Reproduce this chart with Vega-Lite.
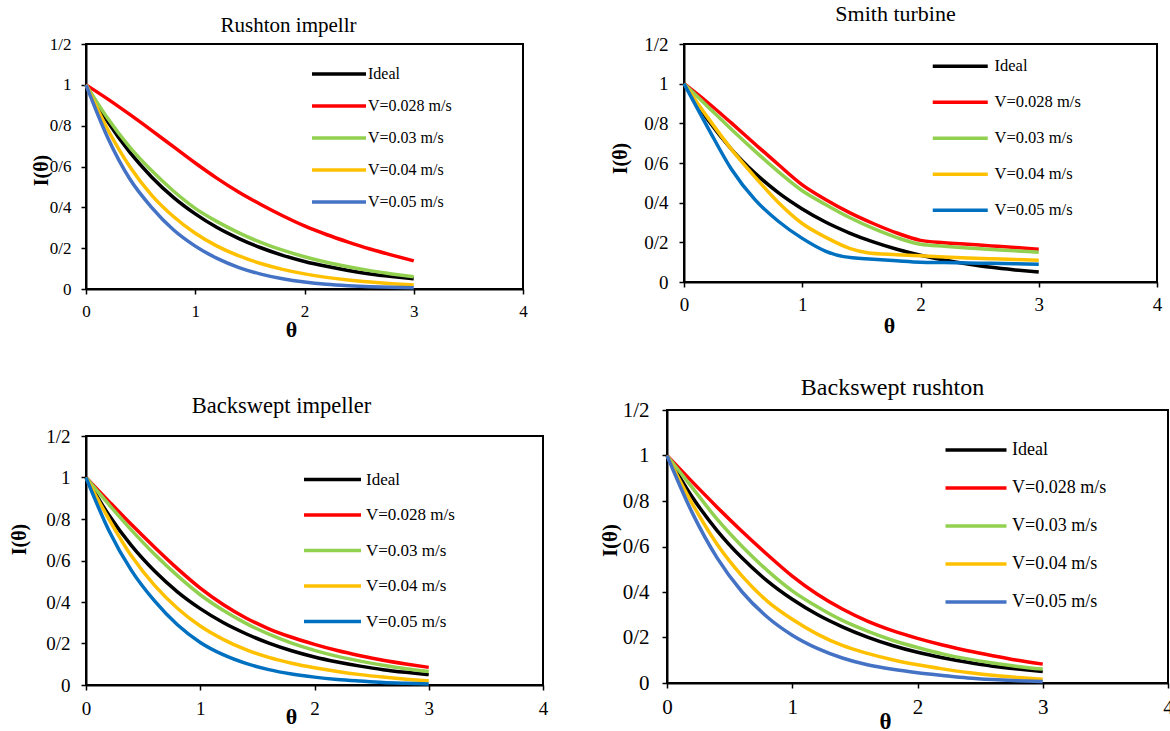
{
"$schema": "https://vega.github.io/schema/vega-lite/v6.json",
"background": "white",
"padding": {"left": 8, "top": 1, "right": 0, "bottom": 0},
"columns": 2,
"align": "none",
"spacing": {"row": 34, "column": 49},
"resolve": {"scale": {"color": "independent", "x": "independent", "y": "independent"}, "legend": {"color": "independent"}},
"config": {
  "view": {"stroke": "black", "strokeWidth": 2},
  "axis": {"grid": false, "domainColor": "black", "domainWidth": 2, "tickColor": "black", "tickWidth": 1.5, "tickSize": 5, "labelFont": "Liberation Serif", "titleFont": "Liberation Serif", "labelColor": "black", "titleColor": "black", "labelFlush": false, "labelOverlap": false},
  "legend": {"labelFont": "Liberation Serif", "labelColor": "black", "padding": 0, "labelLimit": 0},
  "title": {"font": "Liberation Serif", "fontWeight": "normal", "color": "black", "anchor": "middle", "frame": "group"},
  "line": {"strokeWidth": 3.5, "interpolate": "monotone"}
},
"data": {"values": [
{"p":1,"s":"Ideal","t":0,"v":1},{"p":1,"s":"Ideal","t":0.2,"v":0.819},{"p":1,"s":"Ideal","t":0.4,"v":0.67},{"p":1,"s":"Ideal","t":0.6,"v":0.549},{"p":1,"s":"Ideal","t":0.8,"v":0.449},{"p":1,"s":"Ideal","t":1,"v":0.368},{"p":1,"s":"Ideal","t":1.2,"v":0.301},{"p":1,"s":"Ideal","t":1.4,"v":0.247},{"p":1,"s":"Ideal","t":1.6,"v":0.202},{"p":1,"s":"Ideal","t":1.8,"v":0.165},{"p":1,"s":"Ideal","t":2,"v":0.135},{"p":1,"s":"Ideal","t":2.2,"v":0.111},{"p":1,"s":"Ideal","t":2.4,"v":0.091},{"p":1,"s":"Ideal","t":2.6,"v":0.074},{"p":1,"s":"Ideal","t":2.8,"v":0.061},{"p":1,"s":"Ideal","t":3,"v":0.05},
{"p":1,"s":"V=0.028 m/s","t":0,"v":1},{"p":1,"s":"V=0.028 m/s","t":0.2,"v":0.93},{"p":1,"s":"V=0.028 m/s","t":0.4,"v":0.855},{"p":1,"s":"V=0.028 m/s","t":0.6,"v":0.777},{"p":1,"s":"V=0.028 m/s","t":0.8,"v":0.697},{"p":1,"s":"V=0.028 m/s","t":1,"v":0.617},{"p":1,"s":"V=0.028 m/s","t":1.2,"v":0.542},{"p":1,"s":"V=0.028 m/s","t":1.4,"v":0.474},{"p":1,"s":"V=0.028 m/s","t":1.6,"v":0.414},{"p":1,"s":"V=0.028 m/s","t":1.8,"v":0.359},{"p":1,"s":"V=0.028 m/s","t":2,"v":0.309},{"p":1,"s":"V=0.028 m/s","t":2.2,"v":0.267},{"p":1,"s":"V=0.028 m/s","t":2.4,"v":0.23},{"p":1,"s":"V=0.028 m/s","t":2.6,"v":0.196},{"p":1,"s":"V=0.028 m/s","t":2.8,"v":0.166},{"p":1,"s":"V=0.028 m/s","t":3,"v":0.138},
{"p":1,"s":"V=0.03 m/s","t":0,"v":1},{"p":1,"s":"V=0.03 m/s","t":0.2,"v":0.835},{"p":1,"s":"V=0.03 m/s","t":0.4,"v":0.695},{"p":1,"s":"V=0.03 m/s","t":0.6,"v":0.58},{"p":1,"s":"V=0.03 m/s","t":0.8,"v":0.48},{"p":1,"s":"V=0.03 m/s","t":1,"v":0.395},{"p":1,"s":"V=0.03 m/s","t":1.2,"v":0.33},{"p":1,"s":"V=0.03 m/s","t":1.4,"v":0.275},{"p":1,"s":"V=0.03 m/s","t":1.6,"v":0.228},{"p":1,"s":"V=0.03 m/s","t":1.8,"v":0.19},{"p":1,"s":"V=0.03 m/s","t":2,"v":0.158},{"p":1,"s":"V=0.03 m/s","t":2.2,"v":0.131},{"p":1,"s":"V=0.03 m/s","t":2.4,"v":0.109},{"p":1,"s":"V=0.03 m/s","t":2.6,"v":0.09},{"p":1,"s":"V=0.03 m/s","t":2.8,"v":0.074},{"p":1,"s":"V=0.03 m/s","t":3,"v":0.06},
{"p":1,"s":"V=0.04 m/s","t":0,"v":1},{"p":1,"s":"V=0.04 m/s","t":0.2,"v":0.78},{"p":1,"s":"V=0.04 m/s","t":0.4,"v":0.6},{"p":1,"s":"V=0.04 m/s","t":0.6,"v":0.46},{"p":1,"s":"V=0.04 m/s","t":0.8,"v":0.355},{"p":1,"s":"V=0.04 m/s","t":1,"v":0.273},{"p":1,"s":"V=0.04 m/s","t":1.2,"v":0.21},{"p":1,"s":"V=0.04 m/s","t":1.4,"v":0.162},{"p":1,"s":"V=0.04 m/s","t":1.6,"v":0.125},{"p":1,"s":"V=0.04 m/s","t":1.8,"v":0.096},{"p":1,"s":"V=0.04 m/s","t":2,"v":0.074},{"p":1,"s":"V=0.04 m/s","t":2.2,"v":0.057},{"p":1,"s":"V=0.04 m/s","t":2.4,"v":0.044},{"p":1,"s":"V=0.04 m/s","t":2.6,"v":0.034},{"p":1,"s":"V=0.04 m/s","t":2.8,"v":0.026},{"p":1,"s":"V=0.04 m/s","t":3,"v":0.02},
{"p":1,"s":"V=0.05 m/s","t":0,"v":1},{"p":1,"s":"V=0.05 m/s","t":0.2,"v":0.74},{"p":1,"s":"V=0.05 m/s","t":0.4,"v":0.54},{"p":1,"s":"V=0.05 m/s","t":0.6,"v":0.4},{"p":1,"s":"V=0.05 m/s","t":0.8,"v":0.29},{"p":1,"s":"V=0.05 m/s","t":1,"v":0.21},{"p":1,"s":"V=0.05 m/s","t":1.2,"v":0.15},{"p":1,"s":"V=0.05 m/s","t":1.4,"v":0.105},{"p":1,"s":"V=0.05 m/s","t":1.6,"v":0.073},{"p":1,"s":"V=0.05 m/s","t":1.8,"v":0.05},{"p":1,"s":"V=0.05 m/s","t":2,"v":0.034},{"p":1,"s":"V=0.05 m/s","t":2.2,"v":0.023},{"p":1,"s":"V=0.05 m/s","t":2.4,"v":0.016},{"p":1,"s":"V=0.05 m/s","t":2.6,"v":0.011},{"p":1,"s":"V=0.05 m/s","t":2.8,"v":0.008},{"p":1,"s":"V=0.05 m/s","t":3,"v":0.006},

{"p":2,"s":"Ideal","t":0,"v":1},{"p":2,"s":"Ideal","t":0.2,"v":0.819},{"p":2,"s":"Ideal","t":0.4,"v":0.67},{"p":2,"s":"Ideal","t":0.6,"v":0.549},{"p":2,"s":"Ideal","t":0.8,"v":0.449},{"p":2,"s":"Ideal","t":1,"v":0.368},{"p":2,"s":"Ideal","t":1.2,"v":0.301},{"p":2,"s":"Ideal","t":1.4,"v":0.247},{"p":2,"s":"Ideal","t":1.6,"v":0.202},{"p":2,"s":"Ideal","t":1.8,"v":0.165},{"p":2,"s":"Ideal","t":2,"v":0.135},{"p":2,"s":"Ideal","t":2.2,"v":0.111},{"p":2,"s":"Ideal","t":2.4,"v":0.091},{"p":2,"s":"Ideal","t":2.6,"v":0.074},{"p":2,"s":"Ideal","t":2.8,"v":0.061},{"p":2,"s":"Ideal","t":3,"v":0.05},
{"p":2,"s":"V=0.028 m/s","t":0,"v":1},{"p":2,"s":"V=0.028 m/s","t":0.2,"v":0.905},{"p":2,"s":"V=0.028 m/s","t":0.4,"v":0.802},{"p":2,"s":"V=0.028 m/s","t":0.6,"v":0.696},{"p":2,"s":"V=0.028 m/s","t":0.8,"v":0.591},{"p":2,"s":"V=0.028 m/s","t":1,"v":0.49},{"p":2,"s":"V=0.028 m/s","t":1.2,"v":0.415},{"p":2,"s":"V=0.028 m/s","t":1.4,"v":0.35},{"p":2,"s":"V=0.028 m/s","t":1.6,"v":0.295},{"p":2,"s":"V=0.028 m/s","t":1.8,"v":0.247},{"p":2,"s":"V=0.028 m/s","t":2,"v":0.21},{"p":2,"s":"V=0.028 m/s","t":2.2,"v":0.198},{"p":2,"s":"V=0.028 m/s","t":2.4,"v":0.19},{"p":2,"s":"V=0.028 m/s","t":2.6,"v":0.182},{"p":2,"s":"V=0.028 m/s","t":2.8,"v":0.174},{"p":2,"s":"V=0.028 m/s","t":3,"v":0.165},
{"p":2,"s":"V=0.03 m/s","t":0,"v":1},{"p":2,"s":"V=0.03 m/s","t":0.2,"v":0.885},{"p":2,"s":"V=0.03 m/s","t":0.4,"v":0.77},{"p":2,"s":"V=0.03 m/s","t":0.6,"v":0.66},{"p":2,"s":"V=0.03 m/s","t":0.8,"v":0.555},{"p":2,"s":"V=0.03 m/s","t":1,"v":0.46},{"p":2,"s":"V=0.03 m/s","t":1.2,"v":0.39},{"p":2,"s":"V=0.03 m/s","t":1.4,"v":0.325},{"p":2,"s":"V=0.03 m/s","t":1.6,"v":0.27},{"p":2,"s":"V=0.03 m/s","t":1.8,"v":0.224},{"p":2,"s":"V=0.03 m/s","t":2,"v":0.19},{"p":2,"s":"V=0.03 m/s","t":2.2,"v":0.18},{"p":2,"s":"V=0.03 m/s","t":2.4,"v":0.172},{"p":2,"s":"V=0.03 m/s","t":2.6,"v":0.164},{"p":2,"s":"V=0.03 m/s","t":2.8,"v":0.157},{"p":2,"s":"V=0.03 m/s","t":3,"v":0.15},
{"p":2,"s":"V=0.04 m/s","t":0,"v":1},{"p":2,"s":"V=0.04 m/s","t":0.2,"v":0.83},{"p":2,"s":"V=0.04 m/s","t":0.4,"v":0.67},{"p":2,"s":"V=0.04 m/s","t":0.6,"v":0.53},{"p":2,"s":"V=0.04 m/s","t":0.8,"v":0.4},{"p":2,"s":"V=0.04 m/s","t":1,"v":0.295},{"p":2,"s":"V=0.04 m/s","t":1.2,"v":0.225},{"p":2,"s":"V=0.04 m/s","t":1.4,"v":0.17},{"p":2,"s":"V=0.04 m/s","t":1.55,"v":0.148},{"p":2,"s":"V=0.04 m/s","t":1.8,"v":0.138},{"p":2,"s":"V=0.04 m/s","t":2,"v":0.132},{"p":2,"s":"V=0.04 m/s","t":2.2,"v":0.126},{"p":2,"s":"V=0.04 m/s","t":2.4,"v":0.121},{"p":2,"s":"V=0.04 m/s","t":2.6,"v":0.117},{"p":2,"s":"V=0.04 m/s","t":2.8,"v":0.113},{"p":2,"s":"V=0.04 m/s","t":3,"v":0.11},
{"p":2,"s":"V=0.05 m/s","t":0,"v":1},{"p":2,"s":"V=0.05 m/s","t":0.2,"v":0.78},{"p":2,"s":"V=0.05 m/s","t":0.4,"v":0.57},{"p":2,"s":"V=0.05 m/s","t":0.6,"v":0.415},{"p":2,"s":"V=0.05 m/s","t":0.8,"v":0.305},{"p":2,"s":"V=0.05 m/s","t":1,"v":0.22},{"p":2,"s":"V=0.05 m/s","t":1.2,"v":0.155},{"p":2,"s":"V=0.05 m/s","t":1.35,"v":0.128},{"p":2,"s":"V=0.05 m/s","t":1.6,"v":0.115},{"p":2,"s":"V=0.05 m/s","t":1.8,"v":0.107},{"p":2,"s":"V=0.05 m/s","t":2,"v":0.1},{"p":2,"s":"V=0.05 m/s","t":2.2,"v":0.098},{"p":2,"s":"V=0.05 m/s","t":2.4,"v":0.096},{"p":2,"s":"V=0.05 m/s","t":2.6,"v":0.094},{"p":2,"s":"V=0.05 m/s","t":2.8,"v":0.092},{"p":2,"s":"V=0.05 m/s","t":3,"v":0.09},

{"p":3,"s":"Ideal","t":0,"v":1},{"p":3,"s":"Ideal","t":0.2,"v":0.819},{"p":3,"s":"Ideal","t":0.4,"v":0.67},{"p":3,"s":"Ideal","t":0.6,"v":0.549},{"p":3,"s":"Ideal","t":0.8,"v":0.449},{"p":3,"s":"Ideal","t":1,"v":0.368},{"p":3,"s":"Ideal","t":1.2,"v":0.301},{"p":3,"s":"Ideal","t":1.4,"v":0.247},{"p":3,"s":"Ideal","t":1.6,"v":0.202},{"p":3,"s":"Ideal","t":1.8,"v":0.165},{"p":3,"s":"Ideal","t":2,"v":0.135},{"p":3,"s":"Ideal","t":2.2,"v":0.111},{"p":3,"s":"Ideal","t":2.4,"v":0.091},{"p":3,"s":"Ideal","t":2.6,"v":0.074},{"p":3,"s":"Ideal","t":2.8,"v":0.061},{"p":3,"s":"Ideal","t":3,"v":0.05},
{"p":3,"s":"V=0.028 m/s","t":0,"v":1},{"p":3,"s":"V=0.028 m/s","t":0.2,"v":0.885},{"p":3,"s":"V=0.028 m/s","t":0.4,"v":0.772},{"p":3,"s":"V=0.028 m/s","t":0.6,"v":0.664},{"p":3,"s":"V=0.028 m/s","t":0.8,"v":0.561},{"p":3,"s":"V=0.028 m/s","t":1,"v":0.467},{"p":3,"s":"V=0.028 m/s","t":1.2,"v":0.388},{"p":3,"s":"V=0.028 m/s","t":1.4,"v":0.323},{"p":3,"s":"V=0.028 m/s","t":1.6,"v":0.271},{"p":3,"s":"V=0.028 m/s","t":1.8,"v":0.23},{"p":3,"s":"V=0.028 m/s","t":2,"v":0.196},{"p":3,"s":"V=0.028 m/s","t":2.2,"v":0.166},{"p":3,"s":"V=0.028 m/s","t":2.4,"v":0.141},{"p":3,"s":"V=0.028 m/s","t":2.6,"v":0.119},{"p":3,"s":"V=0.028 m/s","t":2.8,"v":0.101},{"p":3,"s":"V=0.028 m/s","t":3,"v":0.085},
{"p":3,"s":"V=0.03 m/s","t":0,"v":1},{"p":3,"s":"V=0.03 m/s","t":0.2,"v":0.87},{"p":3,"s":"V=0.03 m/s","t":0.4,"v":0.745},{"p":3,"s":"V=0.03 m/s","t":0.6,"v":0.63},{"p":3,"s":"V=0.03 m/s","t":0.8,"v":0.527},{"p":3,"s":"V=0.03 m/s","t":1,"v":0.435},{"p":3,"s":"V=0.03 m/s","t":1.2,"v":0.36},{"p":3,"s":"V=0.03 m/s","t":1.4,"v":0.297},{"p":3,"s":"V=0.03 m/s","t":1.6,"v":0.245},{"p":3,"s":"V=0.03 m/s","t":1.8,"v":0.202},{"p":3,"s":"V=0.03 m/s","t":2,"v":0.167},{"p":3,"s":"V=0.03 m/s","t":2.2,"v":0.138},{"p":3,"s":"V=0.03 m/s","t":2.4,"v":0.115},{"p":3,"s":"V=0.03 m/s","t":2.6,"v":0.095},{"p":3,"s":"V=0.03 m/s","t":2.8,"v":0.078},{"p":3,"s":"V=0.03 m/s","t":3,"v":0.065},
{"p":3,"s":"V=0.04 m/s","t":0,"v":1},{"p":3,"s":"V=0.04 m/s","t":0.2,"v":0.8},{"p":3,"s":"V=0.04 m/s","t":0.4,"v":0.62},{"p":3,"s":"V=0.04 m/s","t":0.6,"v":0.48},{"p":3,"s":"V=0.04 m/s","t":0.8,"v":0.37},{"p":3,"s":"V=0.04 m/s","t":1,"v":0.284},{"p":3,"s":"V=0.04 m/s","t":1.2,"v":0.22},{"p":3,"s":"V=0.04 m/s","t":1.4,"v":0.17},{"p":3,"s":"V=0.04 m/s","t":1.6,"v":0.133},{"p":3,"s":"V=0.04 m/s","t":1.8,"v":0.105},{"p":3,"s":"V=0.04 m/s","t":2,"v":0.083},{"p":3,"s":"V=0.04 m/s","t":2.2,"v":0.065},{"p":3,"s":"V=0.04 m/s","t":2.4,"v":0.05},{"p":3,"s":"V=0.04 m/s","t":2.6,"v":0.038},{"p":3,"s":"V=0.04 m/s","t":2.8,"v":0.028},{"p":3,"s":"V=0.04 m/s","t":3,"v":0.02},
{"p":3,"s":"V=0.05 m/s","t":0,"v":1},{"p":3,"s":"V=0.05 m/s","t":0.2,"v":0.745},{"p":3,"s":"V=0.05 m/s","t":0.4,"v":0.55},{"p":3,"s":"V=0.05 m/s","t":0.6,"v":0.405},{"p":3,"s":"V=0.05 m/s","t":0.8,"v":0.29},{"p":3,"s":"V=0.05 m/s","t":1,"v":0.205},{"p":3,"s":"V=0.05 m/s","t":1.2,"v":0.146},{"p":3,"s":"V=0.05 m/s","t":1.4,"v":0.104},{"p":3,"s":"V=0.05 m/s","t":1.6,"v":0.074},{"p":3,"s":"V=0.05 m/s","t":1.8,"v":0.053},{"p":3,"s":"V=0.05 m/s","t":2,"v":0.038},{"p":3,"s":"V=0.05 m/s","t":2.2,"v":0.027},{"p":3,"s":"V=0.05 m/s","t":2.4,"v":0.019},{"p":3,"s":"V=0.05 m/s","t":2.6,"v":0.012},{"p":3,"s":"V=0.05 m/s","t":2.8,"v":0.008},{"p":3,"s":"V=0.05 m/s","t":3,"v":0.005},

{"p":4,"s":"Ideal","t":0,"v":1},{"p":4,"s":"Ideal","t":0.2,"v":0.819},{"p":4,"s":"Ideal","t":0.4,"v":0.67},{"p":4,"s":"Ideal","t":0.6,"v":0.549},{"p":4,"s":"Ideal","t":0.8,"v":0.449},{"p":4,"s":"Ideal","t":1,"v":0.368},{"p":4,"s":"Ideal","t":1.2,"v":0.301},{"p":4,"s":"Ideal","t":1.4,"v":0.247},{"p":4,"s":"Ideal","t":1.6,"v":0.202},{"p":4,"s":"Ideal","t":1.8,"v":0.165},{"p":4,"s":"Ideal","t":2,"v":0.135},{"p":4,"s":"Ideal","t":2.2,"v":0.111},{"p":4,"s":"Ideal","t":2.4,"v":0.091},{"p":4,"s":"Ideal","t":2.6,"v":0.074},{"p":4,"s":"Ideal","t":2.8,"v":0.061},{"p":4,"s":"Ideal","t":3,"v":0.05},
{"p":4,"s":"V=0.028 m/s","t":0,"v":1},{"p":4,"s":"V=0.028 m/s","t":0.2,"v":0.885},{"p":4,"s":"V=0.028 m/s","t":0.4,"v":0.773},{"p":4,"s":"V=0.028 m/s","t":0.6,"v":0.666},{"p":4,"s":"V=0.028 m/s","t":0.8,"v":0.565},{"p":4,"s":"V=0.028 m/s","t":1,"v":0.47},{"p":4,"s":"V=0.028 m/s","t":1.2,"v":0.39},{"p":4,"s":"V=0.028 m/s","t":1.4,"v":0.325},{"p":4,"s":"V=0.028 m/s","t":1.6,"v":0.272},{"p":4,"s":"V=0.028 m/s","t":1.8,"v":0.23},{"p":4,"s":"V=0.028 m/s","t":2,"v":0.196},{"p":4,"s":"V=0.028 m/s","t":2.2,"v":0.167},{"p":4,"s":"V=0.028 m/s","t":2.4,"v":0.142},{"p":4,"s":"V=0.028 m/s","t":2.6,"v":0.12},{"p":4,"s":"V=0.028 m/s","t":2.8,"v":0.1},{"p":4,"s":"V=0.028 m/s","t":3,"v":0.083},
{"p":4,"s":"V=0.03 m/s","t":0,"v":1},{"p":4,"s":"V=0.03 m/s","t":0.2,"v":0.86},{"p":4,"s":"V=0.03 m/s","t":0.4,"v":0.72},{"p":4,"s":"V=0.03 m/s","t":0.6,"v":0.6},{"p":4,"s":"V=0.03 m/s","t":0.8,"v":0.495},{"p":4,"s":"V=0.03 m/s","t":1,"v":0.405},{"p":4,"s":"V=0.03 m/s","t":1.2,"v":0.335},{"p":4,"s":"V=0.03 m/s","t":1.4,"v":0.275},{"p":4,"s":"V=0.03 m/s","t":1.6,"v":0.228},{"p":4,"s":"V=0.03 m/s","t":1.8,"v":0.188},{"p":4,"s":"V=0.03 m/s","t":2,"v":0.156},{"p":4,"s":"V=0.03 m/s","t":2.2,"v":0.128},{"p":4,"s":"V=0.03 m/s","t":2.4,"v":0.106},{"p":4,"s":"V=0.03 m/s","t":2.6,"v":0.088},{"p":4,"s":"V=0.03 m/s","t":2.8,"v":0.073},{"p":4,"s":"V=0.03 m/s","t":3,"v":0.061},
{"p":4,"s":"V=0.04 m/s","t":0,"v":1},{"p":4,"s":"V=0.04 m/s","t":0.2,"v":0.79},{"p":4,"s":"V=0.04 m/s","t":0.4,"v":0.61},{"p":4,"s":"V=0.04 m/s","t":0.6,"v":0.47},{"p":4,"s":"V=0.04 m/s","t":0.8,"v":0.36},{"p":4,"s":"V=0.04 m/s","t":1,"v":0.28},{"p":4,"s":"V=0.04 m/s","t":1.2,"v":0.215},{"p":4,"s":"V=0.04 m/s","t":1.4,"v":0.165},{"p":4,"s":"V=0.04 m/s","t":1.6,"v":0.13},{"p":4,"s":"V=0.04 m/s","t":1.8,"v":0.102},{"p":4,"s":"V=0.04 m/s","t":2,"v":0.08},{"p":4,"s":"V=0.04 m/s","t":2.2,"v":0.062},{"p":4,"s":"V=0.04 m/s","t":2.4,"v":0.046},{"p":4,"s":"V=0.04 m/s","t":2.6,"v":0.034},{"p":4,"s":"V=0.04 m/s","t":2.8,"v":0.024},{"p":4,"s":"V=0.04 m/s","t":3,"v":0.017},
{"p":4,"s":"V=0.05 m/s","t":0,"v":1},{"p":4,"s":"V=0.05 m/s","t":0.2,"v":0.75},{"p":4,"s":"V=0.05 m/s","t":0.4,"v":0.55},{"p":4,"s":"V=0.05 m/s","t":0.6,"v":0.4},{"p":4,"s":"V=0.05 m/s","t":0.8,"v":0.29},{"p":4,"s":"V=0.05 m/s","t":1,"v":0.21},{"p":4,"s":"V=0.05 m/s","t":1.2,"v":0.152},{"p":4,"s":"V=0.05 m/s","t":1.4,"v":0.11},{"p":4,"s":"V=0.05 m/s","t":1.6,"v":0.08},{"p":4,"s":"V=0.05 m/s","t":1.8,"v":0.06},{"p":4,"s":"V=0.05 m/s","t":2,"v":0.045},{"p":4,"s":"V=0.05 m/s","t":2.2,"v":0.033},{"p":4,"s":"V=0.05 m/s","t":2.4,"v":0.022},{"p":4,"s":"V=0.05 m/s","t":2.6,"v":0.015},{"p":4,"s":"V=0.05 m/s","t":2.8,"v":0.01},{"p":4,"s":"V=0.05 m/s","t":3,"v":0.007}
]},
"concat": [
{"width": 437, "height": 245,
 "title": {"text": "Rushton impellr", "fontSize": 21, "offset": -1, "dx": -16},
 "transform": [{"filter": "datum.p == 1"}],
 "mark": {"type": "line"},
 "encoding": {
  "x": {"field": "t", "type": "quantitative", "scale": {"domain": [0, 4], "nice": false},
        "axis": {"values": [0, 1, 2, 3, 4], "labelFontSize": 17, "labelPadding": 9, "title": "θ", "titleFontSize": 22, "titleFontWeight": "bold", "titleX": 205, "titleY": 30}},
  "y": {"field": "v", "type": "quantitative", "scale": {"domain": [0, 1.2], "nice": false},
        "axis": {"values": [0, 0.2, 0.4, 0.6, 0.8, 1, 1.2], "format": "~g", "labelExpr": "replace(datum.label, '.', '/')", "labelFontSize": 17, "labelPadding": 10, "title": "I(θ)", "titleFontSize": 20, "titleFontWeight": "bold", "titleX": -35, "titleY": 126}},
  "color": {"field": "s", "type": "nominal",
        "scale": {"domain": ["Ideal", "V=0.028 m/s", "V=0.03 m/s", "V=0.04 m/s", "V=0.05 m/s"], "range": ["#000000", "#FF0000", "#92D050", "#FFC000", "#4472C4"]},
        "legend": {"orient": "none", "legendX": 245, "legendY": 22, "title": null, "symbolType": "M-5.4,0H5.4", "symbolSize": 100, "symbolStrokeWidth": 3.5, "labelFontSize": 16, "labelOffset": 21, "rowPadding": 16}}
 }},
{"width": 473, "height": 238,
 "title": {"text": "Smith turbine", "fontSize": 22, "offset": 9.5, "dx": -25},
 "transform": [{"filter": "datum.p == 2"}],
 "mark": {"type": "line"},
 "encoding": {
  "x": {"field": "t", "type": "quantitative", "scale": {"domain": [0, 4], "nice": false},
        "axis": {"values": [0, 1, 2, 3, 4], "labelFontSize": 19, "labelPadding": 8, "title": "θ", "titleFontSize": 22, "titleFontWeight": "bold", "titleX": 205, "titleY": 33}},
  "y": {"field": "v", "type": "quantitative", "scale": {"domain": [0, 1.2], "nice": false},
        "axis": {"values": [0, 0.2, 0.4, 0.6, 0.8, 1, 1.2], "format": "~g", "labelExpr": "replace(datum.label, '.', '/')", "labelFontSize": 19, "labelPadding": 11, "title": ["", "I(θ)"], "titleLineHeight": 11, "titleFontSize": 20, "titleFontWeight": "bold", "titleX": -65, "titleY": 114}},
  "color": {"field": "s", "type": "nominal",
        "scale": {"domain": ["Ideal", "V=0.028 m/s", "V=0.03 m/s", "V=0.04 m/s", "V=0.05 m/s"], "range": ["#000000", "#FF0000", "#92D050", "#FFC000", "#0070C0"]},
        "legend": {"orient": "none", "legendX": 268, "legendY": 14, "title": null, "symbolType": "M-5.5,0H5.5", "symbolSize": 100, "symbolStrokeWidth": 3.5, "labelFontSize": 16.5, "labelOffset": 26, "rowPadding": 19}}
 }},
{"width": 457, "height": 249,
 "title": {"text": ["", "Backswept impeller"], "lineHeight": 18, "fontSize": 22.5, "offset": 10, "dx": -33},
 "transform": [{"filter": "datum.p == 3"}],
 "mark": {"type": "line"},
 "encoding": {
  "x": {"field": "t", "type": "quantitative", "scale": {"domain": [0, 4], "nice": false},
        "axis": {"values": [0, 1, 2, 3, 4], "labelFontSize": 19, "labelPadding": 9, "title": "θ", "titleFontSize": 22, "titleFontWeight": "bold", "titleX": 205, "titleY": 21}},
  "y": {"field": "v", "type": "quantitative", "scale": {"domain": [0, 1.2], "nice": false},
        "axis": {"values": [0, 0.2, 0.4, 0.6, 0.8, 1, 1.2], "format": "~g", "labelExpr": "replace(datum.label, '.', '/')", "labelFontSize": 19, "labelPadding": 11, "title": "I(θ)", "titleFontSize": 20, "titleFontWeight": "bold", "titleX": -57, "titleY": 103}},
  "color": {"field": "s", "type": "nominal",
        "scale": {"domain": ["Ideal", "V=0.028 m/s", "V=0.03 m/s", "V=0.04 m/s", "V=0.05 m/s"], "range": ["#000000", "#FF0000", "#92D050", "#FFC000", "#0070C0"]},
        "legend": {"orient": "none", "legendX": 238, "legendY": 35, "title": null, "symbolType": "M-5.7,0H5.7", "symbolSize": 100, "symbolStrokeWidth": 3.5, "labelFontSize": 17, "labelOffset": 25, "rowPadding": 17.5}}
 }},
{"width": 501, "height": 273,
 "title": {"text": "Backswept rushton", "fontSize": 24, "offset": -1, "dx": -25},
 "transform": [{"filter": "datum.p == 4"}],
 "mark": {"type": "line"},
 "encoding": {
  "x": {"field": "t", "type": "quantitative", "scale": {"domain": [0, 4], "nice": false},
        "axis": {"values": [0, 1, 2, 3, 4], "labelFontSize": 21, "labelPadding": 8, "title": "θ", "titleFontSize": 23, "titleFontWeight": "bold", "titleX": 218, "titleY": 27}},
  "y": {"field": "v", "type": "quantitative", "scale": {"domain": [0, 1.2], "nice": false},
        "axis": {"values": [0, 0.2, 0.4, 0.6, 0.8, 1, 1.2], "format": "~g", "labelExpr": "replace(datum.label, '.', '/')", "labelFontSize": 21, "labelPadding": 13, "title": "I(θ)", "titleFontSize": 21, "titleFontWeight": "bold", "titleX": -47, "titleY": 130}},
  "color": {"field": "s", "type": "nominal",
        "scale": {"domain": ["Ideal", "V=0.028 m/s", "V=0.03 m/s", "V=0.04 m/s", "V=0.05 m/s"], "range": ["#000000", "#FF0000", "#92D050", "#FFC000", "#4472C4"]},
        "legend": {"orient": "none", "legendX": 300, "legendY": 31, "title": null, "symbolType": "M-6.1,0H6.1", "symbolSize": 100, "symbolStrokeWidth": 3.5, "labelFontSize": 18, "labelOffset": 27, "rowPadding": 20}}
 }}
]
}
